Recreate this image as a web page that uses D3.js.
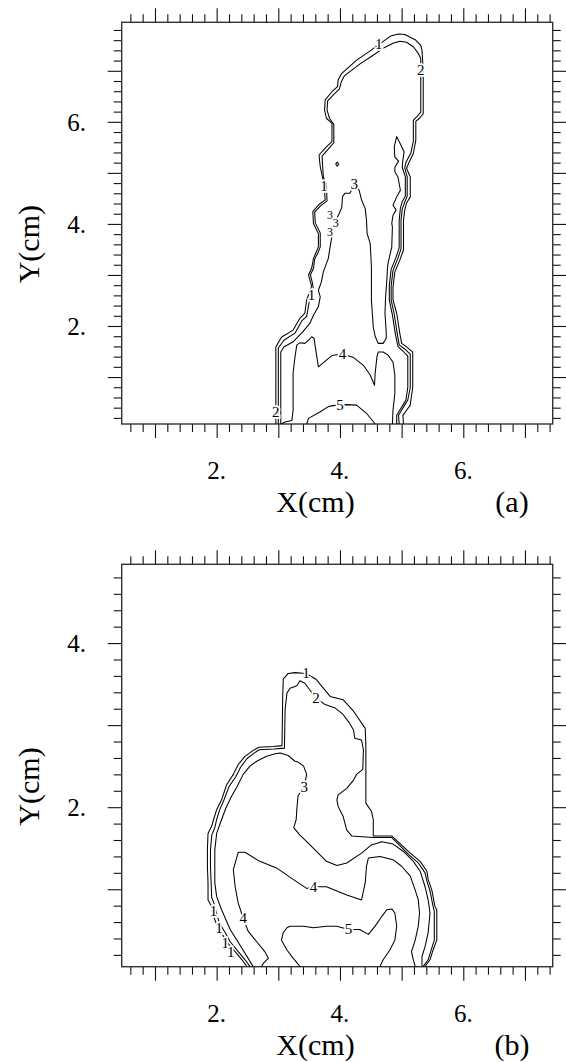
<!DOCTYPE html>
<html><head><meta charset="utf-8">
<script src="https://cdn.jsdelivr.net/npm/d3@7"></script>
<style>
html,body{margin:0;padding:0;background:#fff;}
svg text{font-family:"Liberation Serif","Times New Roman",serif;fill:#000;}
</style></head><body>
<svg id="chart" width="566" height="1062"></svg>
<script>
// ---------- data ----------
const xTickLabels = [2, 4, 6];
const yTickLabelsA = [2, 4, 6];
const yTickLabelsB = [2, 4];
const xTitle = "X(cm)";
const yTitle = "Y(cm)";
const panelTags = ["(a)", "(b)"];

// panel (a) contour lines, [x cm, y cm]
const a_c1 = [[2.96,0.08],[2.96,1.59],[3.05,1.78],[3.24,1.92],[3.35,2.15],[3.43,2.25],[3.46,2.51],[3.54,2.78],[3.49,3.00],[3.54,3.13],[3.57,3.32],[3.65,3.55],[3.65,3.81],[3.57,4.01],[3.56,4.24],[3.65,4.37],[3.76,4.47],[3.74,4.79],[3.68,5.12],[3.66,5.35],[3.78,5.51],[3.87,5.61],[3.87,5.97],[3.78,6.07],[3.75,6.23],[3.76,6.43],[3.87,6.59],[3.96,6.69],[3.97,6.82],[4.03,6.95],[4.27,7.21],[4.49,7.39],[4.82,7.68],[4.95,7.72],[5.05,7.71],[5.22,7.61],[5.31,7.50],[5.33,7.40],[5.35,7.01],[5.35,6.16],[5.29,6.07],[5.23,6.01],[5.23,5.64],[5.19,5.38],[5.11,5.18],[5.08,5.09],[5.14,4.92],[5.14,4.53],[5.08,4.41],[5.05,4.27],[5.03,4.07],[5.03,3.49],[4.97,3.29],[4.89,3.06],[4.86,2.76],[4.86,2.51],[4.92,2.25],[4.97,1.86],[5.00,1.66],[5.08,1.59],[5.18,1.49],[5.18,0.80],[5.15,0.55],[5.14,0.45],[5.08,0.35],[5.02,0.25],[5.03,0.08]];
const a_c2 = [[3.00,0.08],[3.00,1.57],[3.09,1.72],[3.27,1.86],[3.38,2.10],[3.46,2.19],[3.50,2.47],[3.57,2.72],[3.55,2.86],[3.52,3.00],[3.57,3.13],[3.59,3.31],[3.64,3.43],[3.68,3.55],[3.68,3.82],[3.60,4.02],[3.59,4.23],[3.68,4.35],[3.79,4.45],[3.78,4.78],[3.73,4.92],[3.72,5.11],[3.71,5.33],[3.82,5.48],[3.90,5.59],[3.90,5.95],[3.83,6.07],[3.79,6.23],[3.80,6.41],[3.90,6.54],[3.99,6.64],[4.02,6.78],[4.07,6.90],[4.32,7.13],[4.52,7.29],[4.70,7.44],[4.86,7.54],[4.97,7.58],[5.08,7.56],[5.19,7.47],[5.27,7.34],[5.31,7.24],[5.31,6.78],[5.31,6.19],[5.24,6.09],[5.19,6.03],[5.19,5.62],[5.15,5.39],[5.07,5.21],[5.05,5.10],[5.09,4.92],[5.09,4.54],[5.05,4.43],[5.01,4.29],[4.99,4.07],[4.99,3.51],[4.94,3.33],[4.86,3.09],[4.83,2.78],[4.83,2.51],[4.88,2.23],[4.93,1.84],[4.96,1.63],[5.05,1.55],[5.14,1.45],[5.14,0.80],[5.10,0.55],[5.05,0.45],[5.00,0.35],[4.95,0.25],[4.96,0.08]];
const a_c3 = [[3.04,0.08],[3.04,1.49],[3.09,1.59],[3.24,1.69],[3.40,1.89],[3.51,2.05],[3.57,2.21],[3.65,2.38],[3.68,2.57],[3.65,2.70],[3.70,2.87],[3.73,3.06],[3.81,3.32],[3.84,3.55],[3.87,3.76],[3.89,3.92],[3.92,4.04],[3.99,4.21],[4.03,4.33],[4.04,4.53],[4.08,4.60],[4.16,4.60],[4.24,4.78],[4.31,4.66],[4.35,4.47],[4.41,4.30],[4.43,4.07],[4.44,3.81],[4.49,3.62],[4.51,3.16],[4.51,2.51],[4.54,1.98],[4.57,1.80],[4.62,1.66],[4.70,1.66],[4.75,1.76],[4.75,1.88],[4.73,2.25],[4.74,2.57],[4.76,2.90],[4.77,3.13],[4.78,3.23],[4.84,3.55],[4.85,3.94],[4.84,4.01],[4.86,4.17],[4.91,4.27],[4.86,4.37],[4.92,4.53],[4.98,4.66],[4.94,4.92],[4.89,5.02],[4.89,5.11],[4.95,5.23],[4.89,5.31],[4.88,5.51],[4.92,5.71],[4.99,5.54],[5.04,5.41],[5.02,5.25],[5.01,5.11],[5.06,4.92],[5.06,4.54],[5.01,4.44],[4.98,4.31],[4.96,4.07],[4.96,3.53],[4.91,3.35],[4.83,3.11],[4.80,2.79],[4.80,2.51],[4.85,2.22],[4.90,1.83],[4.94,1.60],[5.02,1.51],[5.10,1.41],[5.10,0.80],[5.07,0.55],[5.02,0.45],[4.97,0.35],[4.92,0.25],[4.92,0.08]];
const a_c4 = [[3.05,0.08],[3.11,0.12],[3.22,0.15],[3.24,0.35],[3.24,1.08],[3.27,1.39],[3.30,1.63],[3.35,1.67],[3.43,1.66],[3.49,1.72],[3.54,1.79],[3.58,1.76],[3.60,1.59],[3.65,1.20],[3.78,1.33],[3.87,1.42],[4.04,1.45],[4.21,1.39],[4.38,1.23],[4.49,1.04],[4.56,0.84],[4.57,1.07],[4.60,1.40],[4.62,1.49],[4.70,1.49],[4.78,1.43],[4.86,1.29],[4.89,1.04],[4.89,0.68],[4.86,0.35],[4.85,0.08]];
const a_c5 = [[3.46,0.08],[3.49,0.19],[3.68,0.32],[3.81,0.42],[3.88,0.44],[4.00,0.45],[4.11,0.46],[4.27,0.45],[4.43,0.29],[4.57,0.08]];
const a_dot = [[3.93,5.17],[3.956,5.21],[3.98,5.17],[3.956,5.13],[3.93,5.17]];
const a_labels = [["1",4.63,7.52,15],["2",5.31,7.01,15],["3",4.23,4.78,15],["3",3.84,4.17,12],["3",3.93,4.01,12],["3",3.84,3.85,12],["1",3.74,4.74,15],["1",3.54,2.61,15],["2",2.96,0.32,15],["4",4.04,1.45,15],["5",4.00,0.45,15]];

// panel (b) contour lines
const b_c1 = [[2.49,0.06],[2.41,0.14],[2.30,0.24],[2.16,0.36],[2.08,0.47],[2.00,0.57],[1.95,0.67],[1.92,0.79],[1.86,0.87],[1.86,1.08],[1.85,1.28],[1.85,1.48],[1.86,1.68],[1.92,1.77],[1.95,1.85],[2.00,1.97],[2.08,2.09],[2.16,2.27],[2.27,2.40],[2.35,2.52],[2.46,2.62],[2.57,2.68],[2.68,2.73],[2.92,2.74],[3.06,2.75],[3.07,3.31],[3.08,3.56],[3.16,3.63],[3.27,3.64],[3.45,3.63],[3.61,3.56],[3.73,3.45],[3.84,3.35],[4.05,3.31],[4.22,3.17],[4.41,2.96],[4.42,2.74],[4.42,2.05],[4.51,1.95],[4.54,1.85],[4.54,1.65],[4.84,1.65],[4.97,1.56],[5.14,1.44],[5.30,1.34],[5.41,1.22],[5.43,1.12],[5.49,0.99],[5.54,0.79],[5.57,0.75],[5.57,0.38],[5.51,0.26],[5.46,0.14],[5.38,0.06]];
const b_c2 = [[2.54,0.06],[2.46,0.14],[2.35,0.24],[2.22,0.36],[2.14,0.47],[2.05,0.58],[2.00,0.69],[1.97,0.80],[1.92,0.90],[1.91,1.08],[1.90,1.27],[1.90,1.48],[1.92,1.66],[1.97,1.75],[2.00,1.85],[2.05,1.97],[2.12,2.09],[2.20,2.25],[2.31,2.37],[2.39,2.49],[2.49,2.59],[2.59,2.65],[2.69,2.70],[2.93,2.71],[3.10,2.72],[3.10,2.76],[3.11,3.19],[3.14,3.39],[3.19,3.45],[3.30,3.48],[3.35,3.54],[3.43,3.51],[3.49,3.45],[3.61,3.33],[3.76,3.25],[3.92,3.21],[4.05,3.13],[4.14,3.04],[4.22,2.94],[4.24,2.84],[4.35,2.82],[4.38,2.70],[4.37,2.46],[4.27,2.40],[4.22,2.33],[4.11,2.23],[3.97,2.15],[3.95,2.09],[3.97,2.01],[4.05,1.89],[4.11,1.72],[4.19,1.65],[4.54,1.63],[4.84,1.63],[4.96,1.54],[5.12,1.42],[5.27,1.32],[5.38,1.20],[5.41,1.10],[5.46,0.98],[5.51,0.79],[5.53,0.73],[5.53,0.38],[5.48,0.26],[5.43,0.14],[5.35,0.06]];
const b_c3 = [[2.59,0.06],[2.41,0.28],[2.22,0.51],[2.08,0.75],[2.00,0.91],[1.97,1.08],[1.97,1.48],[2.00,1.68],[2.08,1.85],[2.15,1.99],[2.24,2.13],[2.33,2.25],[2.43,2.40],[2.54,2.50],[2.65,2.56],[2.81,2.62],[2.95,2.65],[3.03,2.66],[3.16,2.63],[3.27,2.56],[3.32,2.55],[3.41,2.50],[3.46,2.40],[3.42,2.25],[3.32,2.14],[3.30,1.97],[3.29,1.85],[3.25,1.75],[3.35,1.66],[3.46,1.58],[3.62,1.46],[3.78,1.34],[3.95,1.29],[4.11,1.32],[4.35,1.44],[4.51,1.54],[4.68,1.58],[4.86,1.55],[5.03,1.46],[5.19,1.34],[5.30,1.22],[5.38,1.03],[5.43,0.87],[5.46,0.71],[5.43,0.47],[5.38,0.30],[5.33,0.18],[5.33,0.06]];
const b_c4 = [[2.73,0.06],[2.76,0.10],[2.84,0.16],[2.78,0.24],[2.65,0.36],[2.51,0.49],[2.43,0.65],[2.35,0.83],[2.30,1.03],[2.27,1.24],[2.35,1.45],[2.46,1.45],[2.70,1.34],[2.97,1.26],[3.24,1.12],[3.46,1.01],[3.57,1.03],[3.78,1.03],[4.11,0.93],[4.35,0.87],[4.41,1.08],[4.43,1.28],[4.46,1.38],[4.65,1.40],[4.86,1.36],[5.00,1.28],[5.14,1.16],[5.22,0.99],[5.27,0.87],[5.29,0.71],[5.27,0.55],[5.22,0.38],[5.16,0.24],[5.19,0.14],[5.22,0.06]];
const b_c5 = [[3.35,0.06],[3.24,0.16],[3.14,0.26],[3.05,0.38],[3.08,0.47],[3.14,0.53],[3.19,0.55],[3.41,0.55],[3.57,0.53],[3.78,0.55],[3.95,0.55],[4.14,0.51],[4.32,0.51],[4.46,0.45],[4.57,0.55],[4.68,0.67],[4.76,0.75],[4.84,0.76],[4.89,0.71],[4.92,0.55],[4.89,0.38],[4.81,0.26],[4.70,0.14],[4.65,0.06]];
const b_labels = [["1",3.45,3.63,15],["2",3.61,3.33,15],["3",3.42,2.25,15],["4",3.57,1.03,15],["4",2.43,0.65,15],["5",4.14,0.51,15],["1",1.95,0.73,15],["1",2.04,0.53,15],["1",2.14,0.34,15],["1",2.23,0.23,15]];

const panelsData = [
  {top: 22.3, bottom: 424, yDomain: [0.08, 7.95], yMax: 7, yLabels: yTickLabelsA, lines: [a_c1, a_c2, a_c3, a_c4, a_c5, a_dot], labels: a_labels, tag: panelTags[0]},
  {top: 564.3, bottom: 966.7, yDomain: [0.056, 4.96], yMax: 4, yLabels: yTickLabelsB, lines: [b_c1, b_c2, b_c3, b_c4, b_c5], labels: b_labels, tag: panelTags[1]}
];

// ---------- drawing ----------
const svg = d3.select("#chart");
const L = 121.7, R = 552.7;
const x = d3.scaleLinear().domain([0.46, 7.45]).range([L, R]);
const xMajor = d3.range(1, 8);
const xMinor = d3.range(3, 38).map(i => i * 0.2).filter(v => Math.abs(v - Math.round(v)) > 1e-6);

panelsData.forEach(p => {
  const g = svg.append("g");
  const y = d3.scaleLinear().domain(p.yDomain).range([p.bottom, p.top]);
  const yMajor = d3.range(1, p.yMax + 1);
  const yMinor = d3.range(1, Math.floor(p.yDomain[1] / 0.2) + 1).map(i => i * 0.2).filter(v => Math.abs(v - Math.round(v)) > 1e-6 && v < p.yDomain[1]);

  const styleAxis = sel => { sel.select(".domain").remove(); sel.selectAll("text").remove(); sel.selectAll("line").attr("stroke", "#111").attr("stroke-width", 1.1); };
  g.append("g").attr("transform", `translate(0,${p.bottom})`).call(d3.axisBottom(x).tickValues(xMajor).tickSize(14)).call(styleAxis);
  g.append("g").attr("transform", `translate(0,${p.bottom})`).call(d3.axisBottom(x).tickValues(xMinor).tickSize(8)).call(styleAxis);
  g.append("g").attr("transform", `translate(0,${p.top})`).call(d3.axisTop(x).tickValues(xMajor).tickSize(14)).call(styleAxis);
  g.append("g").attr("transform", `translate(0,${p.top})`).call(d3.axisTop(x).tickValues(xMinor).tickSize(8)).call(styleAxis);
  g.append("g").attr("transform", `translate(${L},0)`).call(d3.axisLeft(y).tickValues(yMajor).tickSize(14)).call(styleAxis);
  g.append("g").attr("transform", `translate(${L},0)`).call(d3.axisLeft(y).tickValues(yMinor).tickSize(8)).call(styleAxis);
  g.append("g").attr("transform", `translate(${R},0)`).call(d3.axisRight(y).tickValues(yMajor).tickSize(14)).call(styleAxis);
  g.append("g").attr("transform", `translate(${R},0)`).call(d3.axisRight(y).tickValues(yMinor).tickSize(8)).call(styleAxis);

  g.append("rect").attr("x", L).attr("y", p.top).attr("width", R - L).attr("height", p.bottom - p.top)
    .attr("fill", "none").attr("stroke", "#333").attr("stroke-width", 1.4);

  // contour lines
  const line = d3.line().x(d => x(d[0])).y(d => y(d[1]));
  g.append("g").selectAll("path").data(p.lines).join("path")
    .attr("d", line).attr("fill", "none").attr("stroke", "#000").attr("stroke-width", 1.05).attr("stroke-linejoin", "round");

  g.append("g").selectAll("text").data(p.labels).join("text")
    .attr("x", d => x(d[1])).attr("y", d => y(d[2]))
    .attr("text-anchor", "middle").attr("dominant-baseline", "central")
    .attr("font-size", d => d[3]).attr("stroke", "#fff").attr("stroke-width", 3.5).attr("paint-order", "stroke")
    .text(d => d[0]);

  // tick labels
  g.selectAll(".xl").data(xTickLabels).join("text").attr("class", "xl")
    .attr("x", d => x(d)).attr("y", p.bottom + 55).attr("text-anchor", "middle").attr("font-size", 25).text(d => d + ".");
  g.selectAll(".yl").data(p.yLabels).join("text").attr("class", "yl")
    .attr("x", 86).attr("y", d => y(d) + 9).attr("text-anchor", "end").attr("font-size", 25).text(d => d + ".");

  g.append("text").attr("x", 315.5).attr("y", p.bottom + 88).attr("text-anchor", "middle").attr("font-size", 30).text(xTitle);
  g.append("text").attr("x", 512).attr("y", p.bottom + 88).attr("text-anchor", "middle").attr("font-size", 30).text(p.tag);
  const yc = (p.top + p.bottom) / 2 + 21;
  g.append("text").attr("transform", `translate(38.5,${yc}) rotate(-90)`).attr("text-anchor", "middle").attr("font-size", 30).text(yTitle);
});
</script>
</body></html>
